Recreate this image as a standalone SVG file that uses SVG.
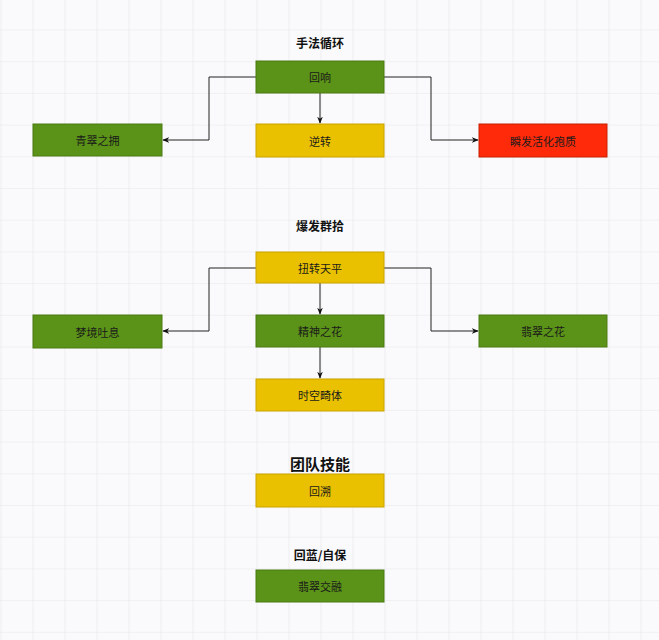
<svg xmlns="http://www.w3.org/2000/svg" width="659" height="640" viewBox="0 0 659 640">
<defs>
<pattern id="grid" x="0.5" y="29.5" width="32" height="31.7" patternUnits="userSpaceOnUse">
<path d="M0 0H32M0 0V31.7" fill="none" stroke="#e6e6ea" stroke-width="1.2"/>
</pattern>
<marker id="arr" viewBox="0 0 10 10" refX="9" refY="5" markerWidth="7" markerHeight="7" orient="auto" markerUnits="userSpaceOnUse">
<path d="M0 1L10 5L0 9L3 5Z" fill="#111"/>
</marker>
<style>
.g rect{fill:#5a9317;stroke:#4a7a12;stroke-width:1}
.y rect{fill:#e9c100;stroke:#c9a400;stroke-width:1}
.r rect{fill:#ff2a0a;stroke:#c61e00;stroke-width:1}
.n text{font-family:"Noto Sans CJK SC","Liberation Sans",sans-serif;font-size:11px;fill:#1a1a1a;text-anchor:middle;dominant-baseline:central}
.t{font-family:"Noto Sans CJK SC","Liberation Sans",sans-serif;font-size:12px;font-weight:bold;fill:#111;text-anchor:middle;dominant-baseline:central}
.c path{fill:none;stroke:#222;stroke-width:1;marker-end:url(#arr)}
</style>
</defs>
<rect width="659" height="640" fill="#fafafc"/>
<rect width="659" height="640" fill="url(#grid)"/>
<g id="titles">
<text class="t" x="320" y="42">手法循环</text>
<text class="t" x="320" y="225">爆发群拾</text>
<text class="t" x="320" y="463" style="font-size:15px">团队技能</text>
<text class="t" x="320" y="554">回蓝/自保</text>
</g>
<g id="connectors" class="c">
<path d="M320 93V123"/>
<path d="M256 77H209V140H163"/>
<path d="M384 77H431V140H478"/>
<path d="M320 283V314"/>
<path d="M320 347V378"/>
<path d="M256 268H209V331H163"/>
<path d="M384 268H431V331H478"/>
</g>
<g id="n_huixiang" class="n g"><rect x="256" y="61" width="128" height="32"/><text x="320" y="77">回响</text></g>
<g id="n_nizhuan" class="n y"><rect x="256" y="124" width="128" height="33"/><text x="320" y="140.5">逆转</text></g>
<g id="n_qingcui" class="n g"><rect x="33" y="124" width="129" height="32"/><text x="97.5" y="140">青翠之拥</text></g>
<g id="n_red" class="n r"><rect x="479" y="124" width="128" height="33"/><text x="543" y="140.5">瞬发活化孢质</text></g>
<g id="n_niuzhuan" class="n y"><rect x="256" y="252" width="128" height="31"/><text x="320" y="267.5">扭转天平</text></g>
<g id="n_jingshen" class="n g"><rect x="256" y="315" width="128" height="32"/><text x="320" y="331">精神之花</text></g>
<g id="n_shikong" class="n y"><rect x="256" y="379" width="128" height="32"/><text x="320" y="395">时空畸体</text></g>
<g id="n_mengjing" class="n g"><rect x="33" y="315" width="129" height="33"/><text x="97.5" y="331.5">梦境吐息</text></g>
<g id="n_feicui" class="n g"><rect x="479" y="315" width="128" height="32"/><text x="543" y="331">翡翠之花</text></g>
<g id="n_huisu" class="n y"><rect x="256" y="474" width="128" height="33"/><text x="320" y="490.5">回溯</text></g>
<g id="n_jiaorong" class="n g"><rect x="256" y="570" width="128" height="32"/><text x="320" y="586">翡翠交融</text></g>
</svg>
